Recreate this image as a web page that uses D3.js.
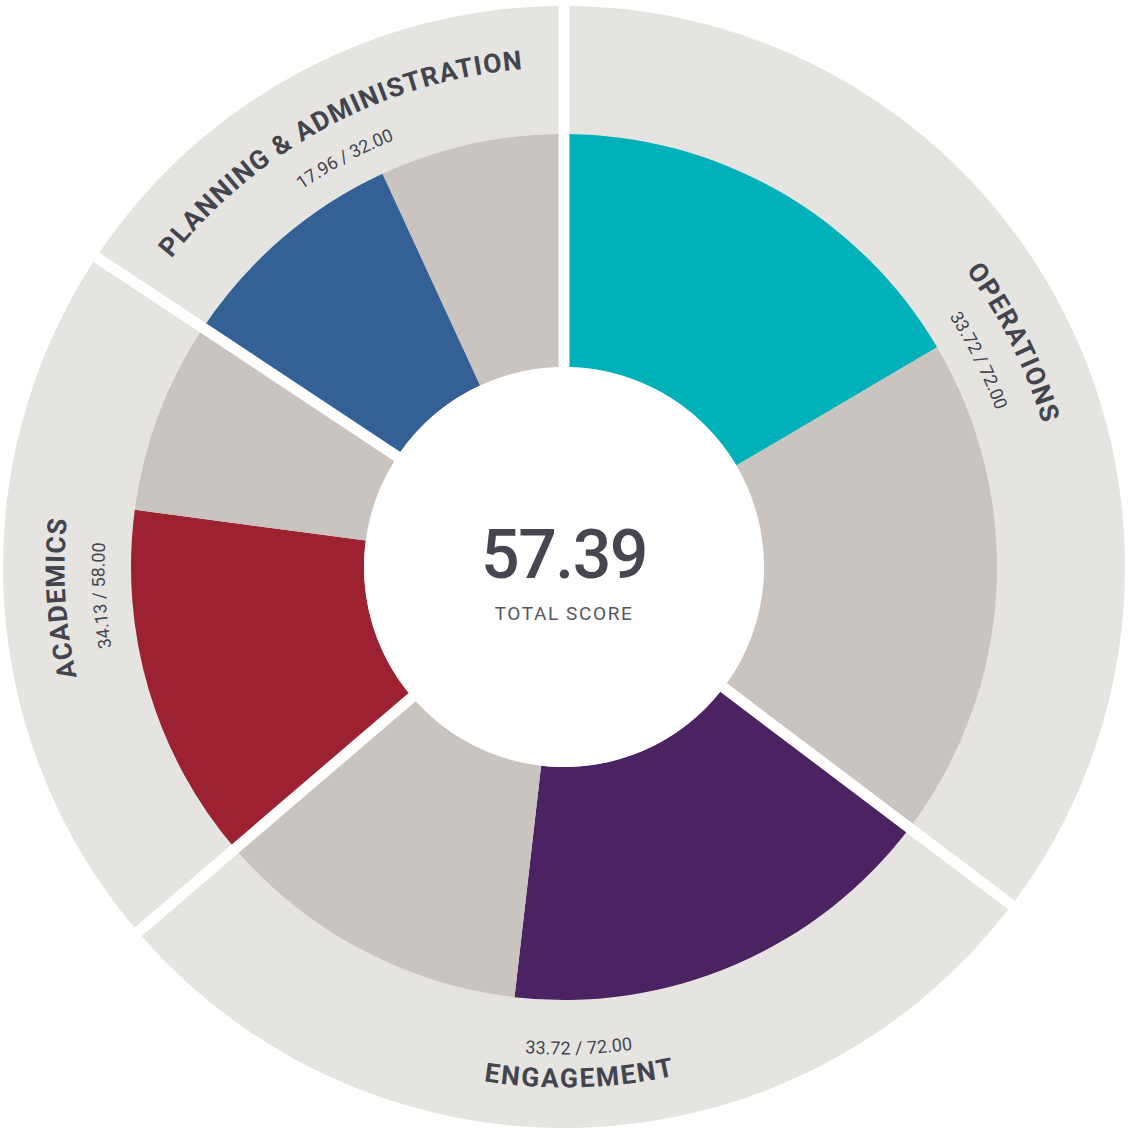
<!DOCTYPE html>
<html>
<head>
<meta charset="utf-8">
<script src="https://cdn.jsdelivr.net/npm/d3@7"></script>
<style>
  html, body { margin: 0; padding: 0; background: #ffffff; }
  svg { display: block; }
  text { font-family: Roboto, "Noto Sans", sans-serif; }
</style>
</head>
<body>
<svg id="chart" width="1128" height="1129"></svg>
<script>
// ---- data ----
const categories = ["OPERATIONS", "ENGAGEMENT", "ACADEMICS", "PLANNING & ADMINISTRATION"];
const sectorSizes = [72, 58, 42, 32];          // angular weight of each sector as drawn
const scores = [33.72, 33.72, 27.3, 17.96];     // coloured part of each sector
const scoreLabels = ["33.72 / 72.00", "33.72 / 72.00", "34.13 / 58.00", "17.96 / 32.00"];
const scoreColors = ["#00b1ba", "#4b2262", "#9c2231", "#336195"];
const totalScore = "57.39";
const totalLabel = "TOTAL SCORE";

// ---- layout ----
const cx = 564, cy = 567;
const rHole = 200, rInner = 433, rOuter = 561;
const gap = 11;

const svg = d3.select("#chart");
const g = svg.append("g").attr("transform", `translate(${cx},${cy})`);
const defs = svg.append("defs");

const data = categories.map((c, i) => ({
  name: c, size: sectorSizes[i], score: scores[i],
  label: scoreLabels[i], color: scoreColors[i], i
}));

const pie = d3.pie().sort(null).value(d => d.size);
const sectors = pie(data);

const bgArc = d3.arc()
  .innerRadius(rHole).outerRadius(rOuter)
  .padRadius(rOuter).padAngle(gap / rOuter);

const leafArc = d3.arc().innerRadius(rHole).outerRadius(rInner);

// background sectors
g.selectAll("path.bg").data(sectors).join("path")
  .attr("class", "bg")
  .attr("d", bgArc)
  .attr("fill", "#e6e4e1");

// clip paths
sectors.forEach((s, i) => {
  defs.append("clipPath").attr("id", "clip" + i)
    .append("path")
    .attr("transform", `translate(${cx},${cy})`)
    .attr("d", bgArc(s));
});

// leaves
sectors.forEach((s, i) => {
  const a = d3.scaleLinear().domain([0, s.data.size]).range([s.startAngle, s.endAngle]);
  const leaves = [
    { start: a(0), end: a(s.data.score), fill: s.data.color },
    { start: a(s.data.score), end: a(s.data.size), fill: "#c9c4bf" }
  ];
  svg.append("g")
    .attr("clip-path", `url(#clip${i})`)
    .append("g").attr("transform", `translate(${cx},${cy})`)
    .selectAll("path").data(leaves).join("path")
    .attr("d", d => leafArc({ startAngle: d.start, endAngle: d.end }))
    .attr("fill", d => d.fill);
});

// labels on arcs
function pt(r, a) { return [r * Math.sin(a), -r * Math.cos(a)]; }
function arcPathD(r, mid, flip) {
  const span = 1.2;
  const a0 = mid - span, a1 = mid + span;
  if (!flip) {
    const p0 = pt(r, a0), p1 = pt(r, a1);
    return `M${p0[0]},${p0[1]} A${r},${r} 0 0 1 ${p1[0]},${p1[1]}`;
  } else {
    const p0 = pt(r, a1), p1 = pt(r, a0);
    return `M${p0[0]},${p0[1]} A${r},${r} 0 0 0 ${p1[0]},${p1[1]}`;
  }
}

const textColor = "#43444e";
sectors.forEach((s, i) => {
  const mid = (s.startAngle + s.endAngle) / 2;
  const flip = Math.cos(mid) < -0.5;
  const rTitle = flip ? 511 : 509;
  const rSub = flip ? 481 : 466;
  defs.append("path").attr("id", "tp" + i).attr("d", arcPathD(rTitle, mid, flip));
  defs.append("path").attr("id", "sp" + i).attr("d", arcPathD(rSub, mid, flip));

  g.append("text")
    .attr("dy", "0.36em")
    .attr("fill", textColor)
    .attr("font-size", 26.5)
    .attr("font-weight", 700)
    .attr("letter-spacing", 1.5)
    .append("textPath")
    .attr("href", "#tp" + i)
    .attr("startOffset", "50%")
    .attr("text-anchor", "middle")
    .text(s.data.name);

  g.append("text")
    .attr("dy", "0.36em")
    .attr("fill", textColor)
    .attr("font-size", 18)
    .attr("font-weight", 400)
    .append("textPath")
    .attr("href", "#sp" + i)
    .attr("startOffset", "50%")
    .attr("text-anchor", "middle")
    .text(s.data.label);
});

// centre
g.append("text")
  .attr("x", 0).attr("y", 11)
  .attr("text-anchor", "middle")
  .attr("font-size", 68)
  .attr("font-weight", 500)
  .attr("letter-spacing", -1.5)
  .attr("fill", "#45464f")
  .text(totalScore);

g.append("text")
  .attr("x", 0).attr("y", 53)
  .attr("text-anchor", "middle")
  .attr("font-size", 19)
  .attr("letter-spacing", 1.6)
  .attr("fill", "#55565f")
  .text(totalLabel);
</script>
</body>
</html>
